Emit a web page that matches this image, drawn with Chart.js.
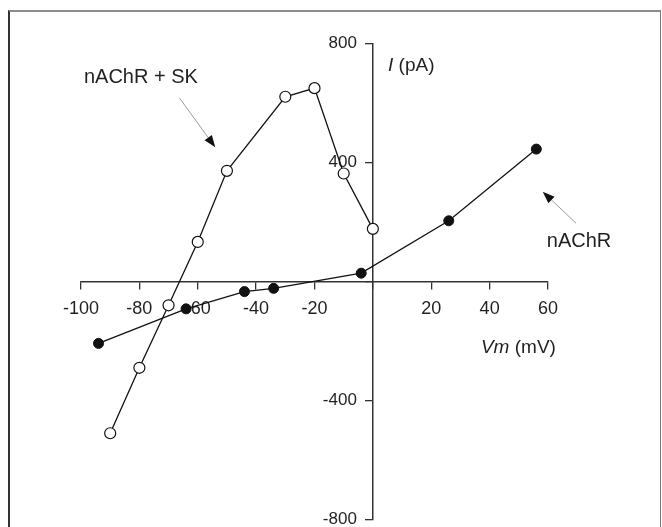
<!DOCTYPE html>
<html>
<head>
<meta charset="utf-8">
<script src="https://cdn.jsdelivr.net/npm/chart.js@4.4.1/dist/chart.umd.min.js"></script>
<style>
  html, body { margin: 0; padding: 0; background: #fff; }
  #wrap { position: relative; width: 662px; height: 527px; overflow: hidden; }
  #frame { position: absolute; left: 8px; top: 10px; width: 650px; height: 540px;
           border-top: 2px solid #8c8c8c; border-left: 2px solid #333; border-right: 1px solid #777; }
  canvas { position: absolute; left: 0; top: 0; }
</style>
</head>
<body>
<div id="wrap">
  <div id="frame"></div>
  <canvas id="grafico" width="662" height="527"></canvas>
</div>
<script>
// nAChR sozinho (círculos cheios)
const vmNAChR = [-94, -64, -44, -34, -4, 26, 56];
const iNAChR = [-208, -92, -34, -23, 28, 204, 445];

// nAChR + SK (círculos abertos)
const vmSK = [-90, -80, -70, -60, -50, -30, -20, -10, 0];
const iSK = [-510, -290, -80, 133, 372, 621, 650, 363, 177];

// eixos
const xTicks = [-100, -80, -60, -40, -20, 0, 20, 40, 60];
const yTicks = [-800, -400, 0, 400, 800];

const fonte = '"Liberation Sans", Arial, sans-serif';
const corTexto = '#231f20';

// rótulos e setas, em coordenadas de dados
const rotulos = [
  { texto: 'nAChR + SK', x: -99, y: 666, align: 'left', base: 'alphabetic' },
  { texto: 'nAChR', x: 59.6, y: 115, align: 'left', base: 'alphabetic' }
];
const setas = [
  { de: [-66.2, 616], para: [-54, 451] },
  { de: [69.6, 196], para: [58.2, 302] }
];

const pontos = (xs, ys) => xs.map((x, i) => ({ x: x, y: ys[i] }));

// o eixo y centrado desenha os rótulos colados na linha; empurra-os para a esquerda
const afastaRotulosY = {
  id: 'afastaRotulosY',
  beforeDraw(chart) {
    const itens = chart.scales.y.getLabelItems();
    if (itens._afastado) return;
    itens.forEach(it => { it.options.translation[0] -= 16; });
    itens._afastado = true;
  }
};

const anotacoes = {
  id: 'anotacoes',
  afterDatasetsDraw(chart) {
    const ctx = chart.ctx;
    const sx = chart.scales.x, sy = chart.scales.y;
    ctx.save();
    ctx.fillStyle = corTexto;
    ctx.font = '20px ' + fonte;
    rotulos.forEach(r => {
      ctx.textAlign = r.align;
      ctx.textBaseline = r.base;
      ctx.fillText(r.texto, sx.getPixelForValue(r.x), sy.getPixelForValue(r.y));
    });

    // setas: haste cinza fina, ponta preta
    setas.forEach(s => {
      const x1 = sx.getPixelForValue(s.de[0]), y1 = sy.getPixelForValue(s.de[1]);
      const x2 = sx.getPixelForValue(s.para[0]), y2 = sy.getPixelForValue(s.para[1]);
      const ang = Math.atan2(y2 - y1, x2 - x1);
      const L = 12, W = 4.5;
      const bx = x2 - L * Math.cos(ang), by = y2 - L * Math.sin(ang);
      ctx.strokeStyle = '#9a9a9a';
      ctx.lineWidth = 1;
      ctx.beginPath();
      ctx.moveTo(x1, y1);
      ctx.lineTo(bx, by);
      ctx.stroke();
      ctx.fillStyle = '#111';
      ctx.beginPath();
      ctx.moveTo(x2, y2);
      ctx.lineTo(bx + W * Math.sin(ang), by - W * Math.cos(ang));
      ctx.lineTo(bx - W * Math.sin(ang), by + W * Math.cos(ang));
      ctx.closePath();
      ctx.fill();
    });

    // títulos dos eixos (parte em itálico)
    ctx.fillStyle = corTexto;
    ctx.textBaseline = 'middle';
    ctx.textAlign = 'left';
    let x = sx.getPixelForValue(5.2);
    let y = sy.getPixelForValue(724);
    ctx.font = 'italic 19px ' + fonte;
    ctx.fillText('I', x, y);
    x += ctx.measureText('I ').width;
    ctx.font = '19px ' + fonte;
    ctx.fillText('(pA)', x, y);

    ctx.font = '19px ' + fonte;
    const resto = ' (mV)';
    const wResto = ctx.measureText(resto).width;
    ctx.font = 'italic 19px ' + fonte;
    const wVm = ctx.measureText('Vm').width;
    let xr = sx.getPixelForValue(62.7);
    y = sy.getPixelForValue(-223);
    ctx.fillText('Vm', xr - wResto - wVm, y);
    ctx.font = '19px ' + fonte;
    ctx.fillText(resto, xr - wResto, y);
    ctx.restore();
  }
};

const semPadding = scale => {
  scale.paddingLeft = 0; scale.paddingRight = 0;
  scale.paddingTop = 0; scale.paddingBottom = 0;
};

const grafico = new Chart(document.getElementById('grafico').getContext('2d'), {
  type: 'scatter',
  data: {
    datasets: [
      {
        label: 'nAChR',
        data: pontos(vmNAChR, iNAChR),
        showLine: true,
        borderColor: '#111',
        borderWidth: 1.3,
        pointBackgroundColor: '#111',
        pointBorderColor: '#111',
        pointBorderWidth: 1,
        pointRadius: 5,
        clip: false
      },
      {
        label: 'nAChR + SK',
        data: pontos(vmSK, iSK),
        showLine: true,
        borderColor: '#111',
        borderWidth: 1.3,
        pointBackgroundColor: '#fff',
        pointBorderColor: '#111',
        pointBorderWidth: 1.2,
        pointRadius: 5.5,
        clip: false
      }
    ]
  },
  options: {
    responsive: false,
    animation: false,
    devicePixelRatio: 1,
    layout: { padding: { left: 81, right: 114, top: 43.5, bottom: 7.5 } },
    plugins: { legend: { display: false }, tooltip: { enabled: false } },
    scales: {
      x: {
        type: 'linear',
        position: { y: 0 },
        min: -100,
        max: 60,
        afterBuildTicks: axis => { axis.ticks = xTicks.map(v => ({ value: v })); },
        afterFit: semPadding,
        grid: { drawOnChartArea: false, drawTicks: true, tickLength: 7, color: '#333', lineWidth: 1.3 },
        border: { display: true, color: '#333', width: 1.5 },
        ticks: {
          color: corTexto,
          font: { family: fonte, size: 18 },
          padding: 9.5,
          maxRotation: 0,
          callback: v => (v === 0 ? '' : v)
        }
      },
      y: {
        type: 'linear',
        position: { x: 0 },
        min: -800,
        max: 800,
        afterBuildTicks: axis => { axis.ticks = yTicks.map(v => ({ value: v })); },
        afterFit: semPadding,
        grid: { drawOnChartArea: false, drawTicks: true, tickLength: 7, color: '#333', lineWidth: 1.3 },
        border: { display: true, color: '#333', width: 1.5 },
        ticks: {
          color: corTexto,
          font: { family: fonte, size: 17 },
          padding: 3,
          callback: v => (v === 0 ? '' : v)
        }
      }
    }
  },
  plugins: [afastaRotulosY, anotacoes]
});
</script>
</body>
</html>
